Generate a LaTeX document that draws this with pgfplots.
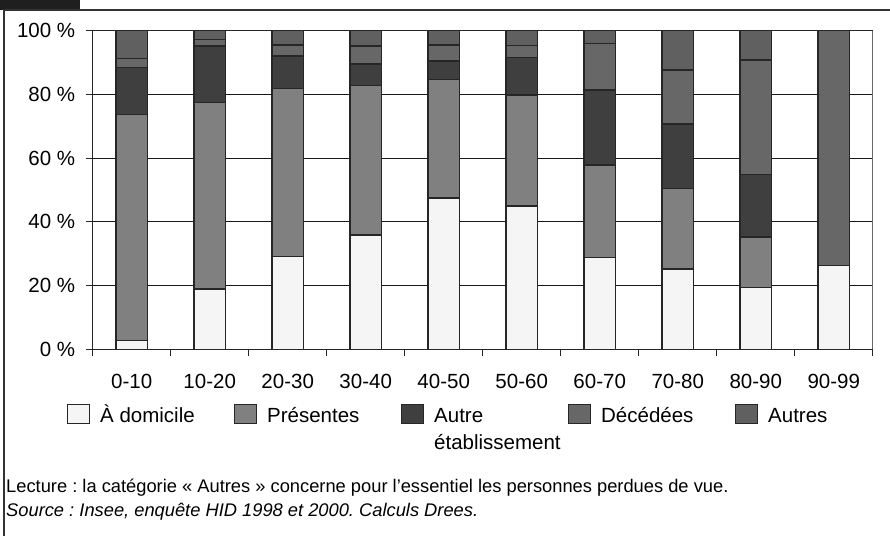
\documentclass[border=0pt]{standalone}
\usepackage{pgfplots}
\pgfplotsset{compat=1.18}
\usepackage{pgfplotstable}
\usepackage{fontspec}
\setmainfont{Liberation Sans}
\newcommand\myfont{\fontsize{20.5bp}{27bp}\selectfont}
\newcommand\notefont{\fontsize{18.3bp}{22bp}\selectfont}
\definecolor{cdom}{HTML}{F5F5F5}
\definecolor{cpres}{HTML}{808080}
\definecolor{cae}{HTML}{3F3F3F}
\definecolor{cdec}{HTML}{676767}
\definecolor{caut}{HTML}{606060}
\definecolor{cedge}{HTML}{262626}
\pgfplotsset{swatch/.style={legend image code/.code={\draw[##1,line width=1bp] (0bp,-1bp) rectangle (22bp,18bp);}}}
\pgfplotstableread{
x dom pres ae dec aut
0 2.7 71.1 14.6 2.9 8.7
1 18.9 58.6 17.7 2.1 2.7
2 29.1 52.8 10.2 3.4 4.5
3 35.9 46.8 6.8 5.7 4.8
4 47.5 37.2 5.8 5.0 4.5
5 45.0 34.8 11.7 3.8 4.7
6 28.9 28.9 23.6 14.6 4.0
7 25.2 25.3 20.2 17.0 12.3
8 19.3 15.9 19.7 35.9 9.2
9 26.2 0 0 73.8 0
}\datatable
\begin{document}
\frenchspacing
\begin{tikzpicture}[x=1bp,y=1bp]
\useasboundingbox (0,0) rectangle (890,536);
\fill[black!88] (0,526) rectangle (80,536);
\draw[black!80,line width=1.3bp] (4,0) -- (4,526) -- (890,526);
\begin{axis}[
  at={(92.7bp,186.7bp)}, anchor=south west,
  scale only axis, width=780bp, height=318.6bp,
  xmin=-0.5, xmax=9.5, ymin=0, ymax=100,
  ybar stacked, bar width=31.6bp,
  ytick={0,20,...,100}, yticklabels={0 \%,20 \%,40 \%,60 \%,80 \%,100 \%},
  yticklabel style={xshift=-7bp},
  xtick={-0.5,0.5,...,9.5}, xticklabels={},
  extra x ticks={0,1,...,9},
  extra x tick labels={0-10,10-20,20-30,30-40,40-50,50-60,60-70,70-80,80-90,90-99},
  extra x tick style={major tick length=0pt, grid=none, xticklabel style={yshift=-21bp}},
  tick align=outside, major tick length=7bp,
  xtick pos=bottom, ytick pos=left,
  ymajorgrids, grid style={black!90, line width=1bp},
  axis line style={black!85, line width=1bp},
  tick style={black!85, line width=1bp},
  tick label style={font=\myfont},
  legend columns=5,
  legend style={draw=none, fill=none, font=\myfont, at={(-0.0368,-0.164)}, anchor=north west,
    cells={anchor=base west},
    nodes={inner xsep=0bp, inner ysep=1bp},
    /tikz/every odd column/.append style={column sep=10bp},
    /tikz/every even column/.append style={column sep=0bp}},
]
\addplot[fill=cdom, draw=cedge, line width=1.3bp, swatch] table[x=x,y=dom]{\datatable};
\addlegendentry{\parbox[t]{134bp}{À domicile}}
\addplot[fill=cpres, draw=cedge, line width=1.3bp, swatch] table[x=x,y=pres]{\datatable};
\addlegendentry{\parbox[t]{134bp}{Présentes}}
\addplot[fill=cae, draw=cedge, line width=1.3bp, swatch] table[x=x,y=ae]{\datatable};
\addlegendentry{\parbox[t]{134bp}{Autre\\établissement}}
\addplot[fill=cdec, draw=cedge, line width=1.3bp, swatch] table[x=x,y=dec]{\datatable};
\addlegendentry{\parbox[t]{134bp}{Décédées}}
\addplot[fill=caut, draw=cedge, line width=1.3bp, swatch] table[x=x,y=aut]{\datatable};
\addlegendentry{\parbox[t]{70bp}{Autres}}
\draw[gray!90, line width=1bp] (rel axis cs:1,0) -- (rel axis cs:1,1);
\end{axis}
\node[anchor=west, font=\notefont, inner sep=0] at (6,48) {Lecture : la catégorie « Autres » concerne pour l’essentiel les personnes perdues de vue.};
\node[anchor=west, font=\notefont\itshape, inner sep=0] at (6,24) {Source : Insee, enquête HID 1998 et 2000. Calculs Drees.};
\end{tikzpicture}
\end{document}
